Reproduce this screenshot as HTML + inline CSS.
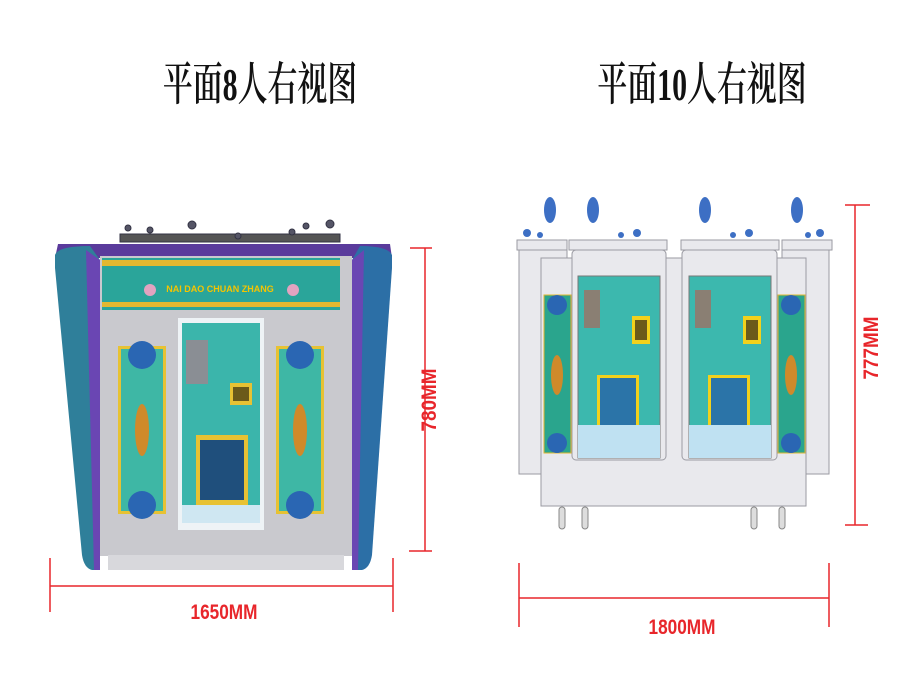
<!DOCTYPE html>
<html><head><meta charset="utf-8"><style>
html,body{margin:0;padding:0;background:#fff;width:917px;height:688px;overflow:hidden}
svg{display:block}
.t{font-family:"Liberation Serif","Noto Serif CJK SC",serif;font-size:46px;font-weight:600;fill:#111}
.d{font-family:"Liberation Sans",sans-serif;font-weight:bold;font-size:21px;fill:#e8262b}
</style></head><body>
<svg width="917" height="688" viewBox="0 0 917 688">
<text class="t" x="0" y="0" text-anchor="middle" transform="translate(260,100) scale(0.65,1)">平面8人右视图</text>
<text class="t" x="0" y="0" text-anchor="middle" transform="translate(702,100) scale(0.65,1)">平面10人右视图</text>

<g>
<g fill="#556" stroke="#334">
<rect x="120" y="234" width="220" height="8" fill="#555"/>
<circle cx="128" cy="228" r="3"/><circle cx="150" cy="230" r="3"/><circle cx="192" cy="225" r="4"/><circle cx="238" cy="236" r="3"/><circle cx="292" cy="232" r="3"/><circle cx="306" cy="226" r="3"/><circle cx="330" cy="224" r="4"/>
</g>
<path d="M58 244 L390 244 L392 258 L55 258Z" fill="#5a3b9c"/>
<path d="M55 255 Q58 246 90 246 L100 260 L100 570 L92 570 Q84 568 82 555 L55 268Z" fill="#2f7f9a"/>
<path d="M86 250 L100 260 L100 570 L94 570Z" fill="#6a46b3"/>
<path d="M392 255 Q388 246 360 246 L352 260 L352 570 L362 570 Q370 568 372 555 L392 268Z" fill="#2c6fa6"/>
<path d="M364 250 L352 260 L352 570 L358 570Z" fill="#6a46b3"/>
<rect x="100" y="256" width="252" height="300" fill="#c9c9ce"/>
<rect x="108" y="555" width="236" height="15" fill="#d8d8dc"/>
<rect x="102" y="258" width="238" height="52" fill="#2aa59a"/>
<rect x="102" y="260" width="238" height="6" fill="#e3b830"/>
<rect x="102" y="302" width="238" height="5" fill="#e3b830"/>
<text x="220" y="292" text-anchor="middle" font-family="Liberation Sans" font-weight="bold" font-size="9" fill="#f5c400">NAI DAO CHUAN ZHANG</text>
<circle cx="150" cy="290" r="6" fill="#e2a3c0"/><circle cx="293" cy="290" r="6" fill="#e2a3c0"/>
<rect x="178" y="318" width="86" height="212" fill="#eef3f6"/>
<rect x="182" y="323" width="78" height="200" fill="#3bb5ab"/>
<rect x="186" y="340" width="22" height="44" fill="#8a8e94"/>
<rect x="230" y="383" width="22" height="22" fill="#e7c233"/><rect x="233" y="387" width="16" height="14" fill="#6b5a1a"/>
<rect x="196" y="435" width="52" height="70" fill="#e7c233"/><rect x="200" y="440" width="44" height="60" fill="#1f4f7c"/>
<rect x="182" y="505" width="78" height="18" fill="#cfe7f2"/>
<rect x="118" y="346" width="48" height="168" fill="#e7c233"/>
<rect x="121" y="349" width="42" height="162" fill="#3eb7a5"/>
<circle cx="142" cy="355" r="14" fill="#2a66b3"/><circle cx="142" cy="505" r="14" fill="#2a66b3"/>
<ellipse cx="142" cy="430" rx="7" ry="26" fill="#cf8a2a"/>
<rect x="276" y="346" width="48" height="168" fill="#e7c233"/>
<rect x="279" y="349" width="42" height="162" fill="#3eb7a5"/>
<circle cx="300" cy="355" r="14" fill="#2a66b3"/><circle cx="300" cy="505" r="14" fill="#2a66b3"/>
<ellipse cx="300" cy="430" rx="7" ry="26" fill="#cf8a2a"/>
</g>
<g stroke="#e8262b" stroke-width="1.5" fill="none">
<line x1="425" y1="248" x2="425" y2="551"/><line x1="410" y1="248" x2="432" y2="248"/><line x1="409" y1="551" x2="432" y2="551"/>
<line x1="50" y1="586" x2="393" y2="586"/><line x1="50" y1="558" x2="50" y2="612"/><line x1="393" y1="558" x2="393" y2="612"/>
</g>
<text class="d" x="0" y="0" text-anchor="middle" transform="translate(224,619) scale(0.82,1)">1650MM</text>
<text class="d" x="0" y="0" text-anchor="middle" transform="translate(436,400) rotate(-90) scale(0.9,1)">780MM</text>

<g>
<g fill="#3d6fc4">
<ellipse cx="550" cy="210" rx="6" ry="13"/><ellipse cx="593" cy="210" rx="6" ry="13"/><ellipse cx="705" cy="210" rx="6" ry="13"/><ellipse cx="797" cy="210" rx="6" ry="13"/>
<circle cx="527" cy="233" r="4"/><circle cx="540" cy="235" r="3"/><circle cx="621" cy="235" r="3"/><circle cx="637" cy="233" r="4"/><circle cx="733" cy="235" r="3"/><circle cx="749" cy="233" r="4"/><circle cx="808" cy="235" r="3"/><circle cx="820" cy="233" r="4"/>
</g>
<g fill="#e9e9ed" stroke="#9a9aa2" stroke-width="1">
<rect x="519" y="248" width="48" height="226"/>
<rect x="782" y="248" width="47" height="226"/>
<rect x="541" y="258" width="265" height="248"/>
<rect x="572" y="250" width="94" height="210" rx="4"/>
<rect x="682" y="250" width="95" height="210" rx="4"/>
<rect x="517" y="240" width="50" height="10"/>
<rect x="569" y="240" width="98" height="10"/>
<rect x="681" y="240" width="98" height="10"/>
<rect x="782" y="240" width="50" height="10"/>
</g>
<rect x="578" y="276" width="82" height="182" fill="#3cb8ae" stroke="#777"/>
<rect x="584" y="290" width="16" height="38" fill="#8a7f73"/>
<rect x="632" y="316" width="18" height="28" fill="#f2d11c"/><rect x="635" y="320" width="12" height="20" fill="#6b5a1a"/>
<rect x="597" y="375" width="42" height="55" fill="#f2d11c"/><rect x="600" y="378" width="36" height="49" fill="#2b74a8"/>
<rect x="578" y="425" width="82" height="33" fill="#bfe1f2"/>
<rect x="689" y="276" width="82" height="182" fill="#3cb8ae" stroke="#777"/>
<rect x="695" y="290" width="16" height="38" fill="#8a7f73"/>
<rect x="743" y="316" width="18" height="28" fill="#f2d11c"/><rect x="746" y="320" width="12" height="20" fill="#6b5a1a"/>
<rect x="708" y="375" width="42" height="55" fill="#f2d11c"/><rect x="711" y="378" width="36" height="49" fill="#2b74a8"/>
<rect x="689" y="425" width="82" height="33" fill="#bfe1f2"/>
<rect x="544" y="295" width="27" height="158" fill="#2aa58d" stroke="#e0b830"/>
<circle cx="557" cy="305" r="10" fill="#2a66b3"/><circle cx="557" cy="443" r="10" fill="#2a66b3"/>
<ellipse cx="557" cy="375" rx="6" ry="20" fill="#cf8a2a"/>
<rect x="778" y="295" width="27" height="158" fill="#2aa58d" stroke="#e0b830"/>
<circle cx="791" cy="305" r="10" fill="#2a66b3"/><circle cx="791" cy="443" r="10" fill="#2a66b3"/>
<ellipse cx="791" cy="375" rx="6" ry="20" fill="#cf8a2a"/>
<g fill="#ddd" stroke="#888">
<rect x="559" y="507" width="6" height="22" rx="3"/><rect x="582" y="507" width="6" height="22" rx="3"/><rect x="751" y="507" width="6" height="22" rx="3"/><rect x="779" y="507" width="6" height="22" rx="3"/>
</g>
</g>
<g stroke="#e8262b" stroke-width="1.5" fill="none">
<line x1="855" y1="205" x2="855" y2="525"/><line x1="845" y1="205" x2="870" y2="205"/><line x1="845" y1="525" x2="868" y2="525"/>
<line x1="519" y1="598" x2="829" y2="598"/><line x1="519" y1="563" x2="519" y2="627"/><line x1="829" y1="563" x2="829" y2="627"/>
</g>
<text class="d" x="0" y="0" text-anchor="middle" transform="translate(682,634) scale(0.82,1)">1800MM</text>
<text class="d" x="0" y="0" text-anchor="middle" transform="translate(878,348) rotate(-90) scale(0.9,1)">777MM</text>
</svg>
</body></html>
